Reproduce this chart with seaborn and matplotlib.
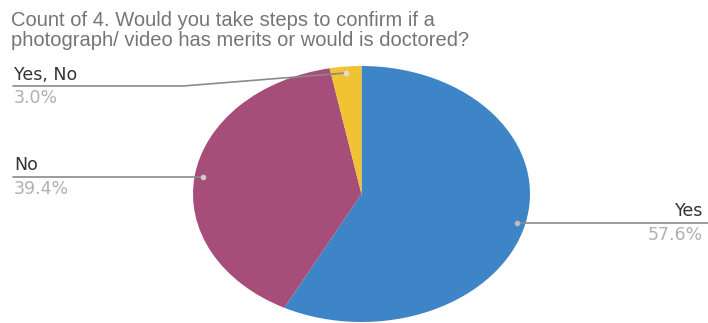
import matplotlib
matplotlib.use("Agg")
import matplotlib.pyplot as plt
import seaborn as sns
import numpy as np

# Data
categories = ["Yes", "No", "Yes, No"]
counts = [19, 13, 1]
pct_labels = ["57.6%", "39.4%", "3.0%"]
colors = ["#3d85c6", "#a64d79", "#f1c232"]
title_lines = ["Count of 4. Would you take steps to confirm if a",
               "photograph/ video has merits or would is doctored?"]

sns.set_theme(style="white")
plt.rcParams['font.family'] = ['Liberation Sans', 'DejaVu Sans']

W, H = 708, 323
fig = plt.figure(figsize=(W / 100, H / 100), dpi=100)

# pie axes (elliptical)
L, R, T, B = 193, 530, 66, 322
ax = fig.add_axes([L / W, (H - B) / H, (R - L) / W, (B - T) / H])
wedges, _ = ax.pie(counts, colors=sns.color_palette(colors), startangle=90,
                   counterclock=False, wedgeprops=dict(linewidth=0))
ax.set_aspect('auto')
ax.set_xlim(-1, 1)
ax.set_ylim(-1, 1)
ax.axis('off')

# overlay axes in pixel coords
ov = fig.add_axes([0, 0, 1, 1], zorder=5)
ov.set_xlim(0, W)
ov.set_ylim(H, 0)
ov.axis('off')

fig.canvas.draw()

def dot_pos(w, r=0.95):
    th = np.deg2rad((w.theta1 + w.theta2) / 2)
    x, y = ax.transData.transform((r * np.cos(th), r * np.sin(th)))
    return x, H - y

title_color = "#757575"
ov.text(11, 20, title_lines[0], fontsize=14.5, color=title_color, va='center', ha='left')
ov.text(11, 41, title_lines[1], fontsize=14.5, color=title_color, va='center', ha='left')

lab_color = "#333333"
pct_color = "#b0b0b0"
line_color = "#8a8a8a"
lab_font = ['DejaVu Sans']
fs = 12.5

# Yes (right)
px, py = dot_pos(wedges[0])
ov.plot([px, 708], [py, py], color=line_color, lw=1.2)
ov.plot([px], [py], 'o', ms=3, color="#bbbbbb")
ov.text(703, py - 2.5, categories[0], fontsize=fs, color=lab_color, ha='right', va='bottom', family=lab_font)
ov.text(703, py + 3, pct_labels[0], fontsize=fs, color=pct_color, ha='right', va='top', family=lab_font)

# No (left)
px, py = dot_pos(wedges[1])
ov.plot([13, px], [py, py], color=line_color, lw=1.2)
ov.plot([px], [py], 'o', ms=3, color="#cccccc")
ov.text(14, py - 2.5, categories[1], fontsize=fs, color=lab_color, ha='left', va='bottom', family=lab_font)
ov.text(14, py + 3, pct_labels[1], fontsize=fs, color=pct_color, ha='left', va='top', family=lab_font)

# Yes, No (left top)
px, py = dot_pos(wedges[2])
ly = 86
ov.plot([13, 183, px], [ly, ly, py], color=line_color, lw=1.2)
ov.plot([px], [py], 'o', ms=3, color="#dddddd")
ov.text(14, ly - 2.5, categories[2], fontsize=fs, color=lab_color, ha='left', va='bottom', family=lab_font)
ov.text(14, ly + 3, pct_labels[2], fontsize=fs, color=pct_color, ha='left', va='top', family=lab_font)

fig.savefig("out.png", dpi=100)
